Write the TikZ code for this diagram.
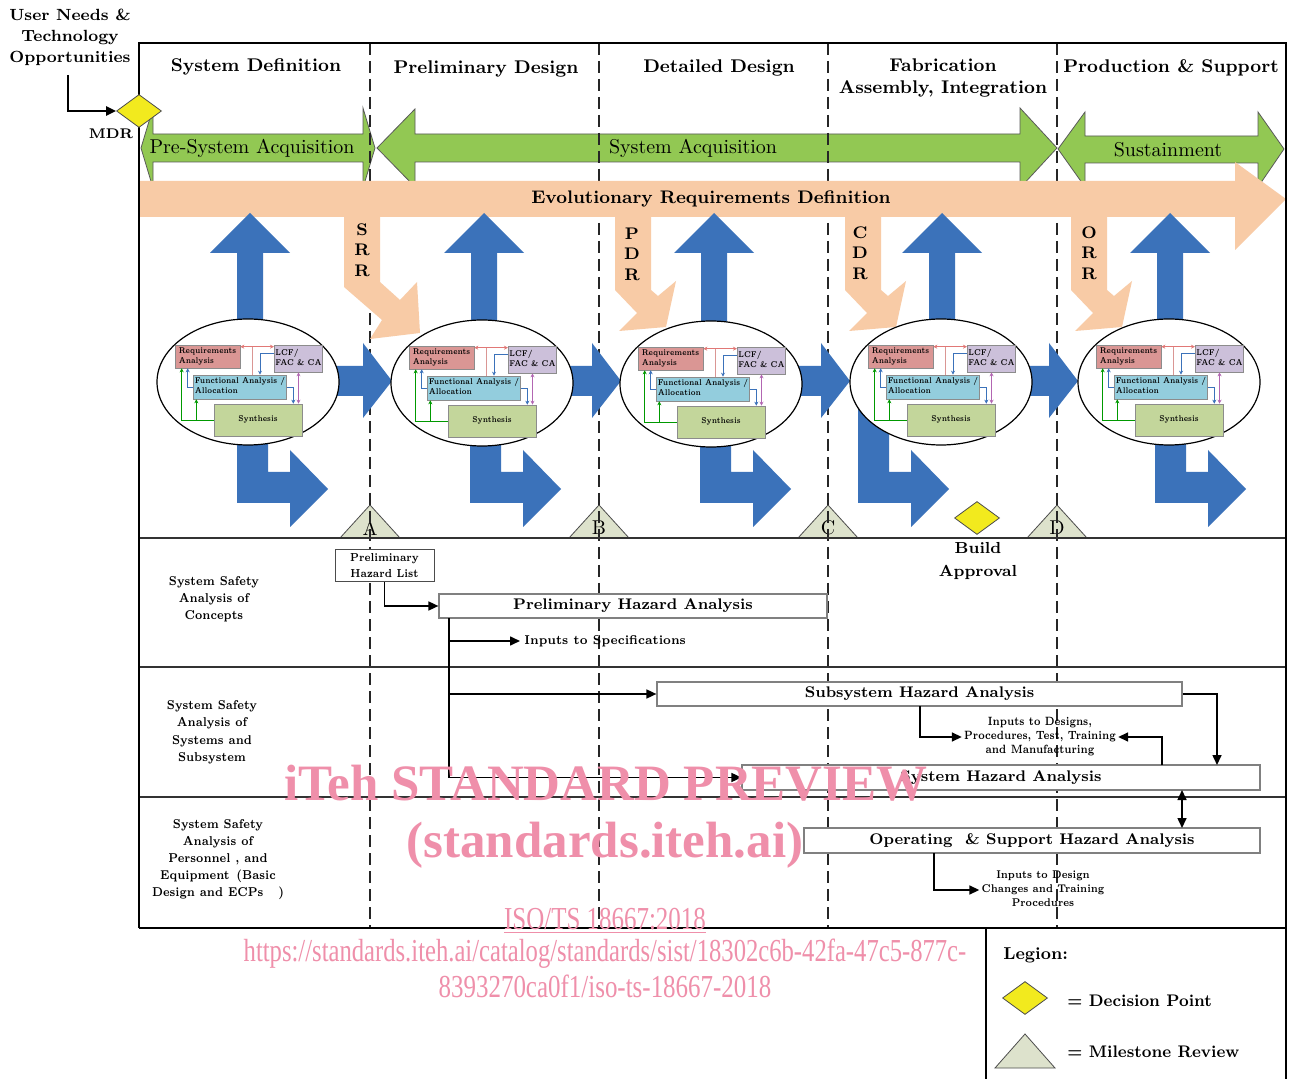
\documentclass[tikz,border=0pt]{standalone}
\usepackage{fontspec}
\usepackage{graphicx}
\usetikzlibrary{arrows.meta,shapes.geometric,calc}
\newfontfamily\wmfont{Liberation Serif}
\definecolor{grn}{RGB}{146,200,83}
\definecolor{peach}{RGB}{248,203,166}
\definecolor{blu}{RGB}{59,114,186}
\definecolor{ylw}{RGB}{242,234,30}
\definecolor{tri}{RGB}{221,226,204}
\definecolor{raC}{RGB}{218,150,148}
\definecolor{lcfC}{RGB}{204,192,218}
\definecolor{faC}{RGB}{147,205,221}
\definecolor{synC}{RGB}{195,214,155}
\definecolor{wm}{RGB}{239,143,170}
\newcommand\myfs[2]{\fontsize{#1}{#2}\selectfont}
\newcommand\cmpc[2]{\scalebox{#1}[1]{\begin{tabular}{@{}c@{}}#2\end{tabular}}}
\newcommand\cmpl[2]{\scalebox{#1}[1]{\begin{tabular}{@{}l@{}}#2\end{tabular}}}
\newcommand\cluster[3]{%
 \begin{scope}[shift={(#2,#3)}]
  \node[ellnode] (#1) at (0,0) {};
  \node[rabox] (#1ra) at (-40.5,-25.5) {\cmpl{0.75}{Requirements\\Analysis}};
  \node[lcfbox] (#1lcf) at (50.5,-23.5) {\cmpl{0.75}{LCF/\\FAC \& CA}};
  \node[fabox] (#1fa) at (-8,5) {\cmpl{0.75}{Functional Analysis /\\Allocation}};
  \node[synbox] (#1syn) at (10,38) {\cmpc{0.75}{Synthesis}};
  \draw[tinyarr,draw=raC!80!red,{Stealth[length=2pt,width=2pt]}-{Stealth[length=2pt,width=2pt]}] ([yshift=-1pt]#1ra.north east) -- ([yshift=-1pt]#1lcf.north west);
  \coordinate (#1pm) at (4,-35);
  \draw[line width=0.35pt,draw=raC] (#1pm) -- (#1pm |- #1fa.north);
  \draw[tinyarr,draw=blu] ([yshift=2.75pt]#1lcf.west) -| ([xshift=10pt]#1fa.north);
  \draw[tinyarr,draw=blu] (#1fa.west) -| ([xshift=6.5pt]#1ra.south west);
  \draw[tinyarr,draw=blu] (#1fa.east) -| ([xshift=-4.5pt]#1syn.north east);
  \draw[tinyarr,draw=violet!60,{Stealth[length=2pt,width=2pt]}-{Stealth[length=2pt,width=2pt]}] (#1lcf.south) -- (#1lcf.south |- #1syn.north);
  \draw[tinyarr,draw=green!60!black] (#1syn.west) -| ([xshift=3.5pt]#1ra.south west);
  \draw[tinyarr,draw=green!60!black] (#1syn.west) -| ([xshift=1.5pt]#1fa.south west);
 \end{scope}}
\newcommand\bentblue[1]{\fill[bluearr] (#1,395) -- ({#1+31},395) -- ({#1+31},472) -- ({#1+53},472) -- ({#1+53},450) -- ({#1+91},489) -- ({#1+53},527) -- ({#1+53},503) -- (#1,503) -- cycle;}
\newcommand\upblue[1]{\fill[bluearr] ({#1-13},340) -- ({#1-13},253) -- ({#1-40},253) -- (#1,213) -- ({#1+40},253) -- ({#1+13},253) -- ({#1+13},340) -- cycle;}
\newcommand\rightblue[2]{\fill[bluearr] (#1,366) -- ({#2-29},366) -- ({#2-29},343) -- (#2,381) -- ({#2-29},418) -- ({#2-29},396) -- (#1,396) -- cycle;}
\newcommand\peachbent[1]{\fill[peacharr] (#1,210) -- (#1,290) -- ({#1+22},313) -- ({#1+4},331) -- ({#1+51},327) -- ({#1+61},281) -- ({#1+43},296) -- ({#1+36},290) -- ({#1+36},210) -- cycle;}
\begin{document}
\begin{tikzpicture}[x=0.5pt,y=-0.5pt,
 greenarr/.style={fill=grn,draw=black!65,line width=0.4pt},
 bluearr/.style={fill=blu},
 peacharr/.style={fill=peach},
 dashv/.style={draw=black!85,line width=0.6pt,dash pattern=on 6pt off 3pt},
 sepline/.style={draw=black!80,line width=0.6pt},
 frameline/.style={draw=black,line width=0.9pt},
 hdr/.style={font=\bfseries\myfs{9.2}{11},align=center,inner sep=0pt},
 ghead/.style={font=\myfs{10}{12},inner sep=0pt},
 letters/.style={font=\bfseries\myfs{8.4}{10.3},align=center,inner sep=0pt},
 lbl/.style={font=\bfseries\myfs{6.4}{8.6},inner sep=0pt},
 hz/.style={draw=black!50,fill=white,line width=0.6pt,inner sep=0pt,minimum height=12pt,font=\bfseries\myfs{7.7}{10}},
 smalltxt/.style={font=\bfseries\myfs{6}{7},inner sep=1pt},
 conn/.style={line width=0.8pt,-{Triangle[length=5pt,width=4.5pt]}},
 conntwo/.style={line width=0.8pt,{Triangle[length=5pt,width=4.5pt]}-{Triangle[length=5pt,width=4.5pt]}},
 dpoint/.style={diamond,fill=ylw,draw=black!70,line width=0.4pt,minimum width=22.5pt,minimum height=16.5pt,inner sep=0pt},
 tristyle/.style={fill=tri,draw=black!70,line width=0.4pt},
 ellnode/.style={ellipse,draw=black,fill=white,line width=0.6pt,minimum width=91pt,minimum height=63pt,inner sep=0pt},
 cbox/.style={draw=black!45,line width=0.3pt,inner sep=0.6pt,font=\bfseries\myfs{4.2}{5}},
 rabox/.style={cbox,fill=raC,minimum width=32.5pt,minimum height=11.5pt},
 lcfbox/.style={cbox,fill=lcfC,minimum width=23.5pt,minimum height=13.5pt},
 fabox/.style={cbox,fill=faC,minimum width=45pt,minimum height=12pt},
 synbox/.style={cbox,fill=synC,minimum width=44pt,minimum height=16pt},
 tinyarr/.style={line width=0.35pt,-{Stealth[length=2pt,width=2pt]}},
 wmtext/.style={text=wm,inner sep=0pt}
]
\useasboundingbox (0,0) rectangle (1290,1079);
\fill[white] (0,0) rectangle (1290,1079);

% green phase arrows
\draw[greenarr] (141,148) -- (153,108) -- (153,134) -- (363,134) -- (363,108) -- (375,148) -- (363,188) -- (363,162) -- (153,162) -- (153,188) -- cycle;
\draw[greenarr] (377,148) -- (415,109) -- (415,134) -- (1020,134) -- (1020,108) -- (1057,148) -- (1020,188) -- (1020,162) -- (415,162) -- (415,187) -- cycle;
\draw[greenarr] (1058,149) -- (1085,112) -- (1085,136) -- (1258,136) -- (1258,112) -- (1284,149) -- (1258,187) -- (1258,163) -- (1085,163) -- (1085,187) -- cycle;

% milestone triangles
\foreach \x/\l in {370/A,599/B,828/C,1057/D}{
  \draw[tristyle] ({\x-30},538) -- (\x,505) -- ({\x+30},538) -- cycle;
  \node[font=\myfs{10}{12},inner sep=0pt] (ms\l) at (\x,528) {\l};
}

% dashed phase separators
\foreach \x in {370,599,828,1057}{
  \draw[dashv] (\x,43) -- (\x,928);
}

% evolutionary requirements arrow
\fill[peacharr] (139,181) -- (1235,181) -- (1235,162) -- (1286,199) -- (1235,250) -- (1235,217) -- (139,217) -- cycle;
\fill[peacharr] (344,210) -- (344,287) -- (382,320) -- (370,339) -- (420,333) -- (417,282) -- (400,300) -- (380,282) -- (380,210) -- cycle;
\peachbent{615}
\peachbent{845}
\peachbent{1071}

% blue arrows
\foreach \c in {250,484,714,942,1170}{\upblue{\c}}
\rightblue{320}{392}
\rightblue{555}{621}
\rightblue{785}{850}
\rightblue{1015}{1078}
\bentblue{237}
\bentblue{470}
\bentblue{700}
\bentblue{858}
\bentblue{1155}

% clusters
\cluster{ca}{248}{382}
\cluster{cb}{482}{383}
\cluster{cc}{711}{384}
\cluster{cd}{941}{382}
\cluster{ce}{1169}{382}

% frame and separators
\draw[sepline] (139,538) -- (1286,538);
\draw[sepline] (139,667) -- (1286,667);
\draw[sepline] (139,797) -- (1286,797);
\draw[frameline] (139,928) -- (139,43) -- (1286,43) -- (1286,1079);
\draw[frameline] (139,928) -- (1286,928);
\draw[frameline] (986,928) -- (986,1079);

% headings
\node[hdr] (h1) at (256,67) {System Definition};
\node[hdr] (h2) at (486,69) {Preliminary Design};
\node[hdr] (h3) at (719,68) {Detailed Design};
\node[hdr] (h4) at (943,78) {Fabrication\\Assembly, Integration};
\node[hdr] (h5) at (1171,68) {Production \& Support};

\node[ghead] (g1) at (252,148) {Pre-System Acquisition};
\node[ghead] (g2) at (693,148) {System Acquisition};
\node[ghead] (g3) at (1168,150) {Sustainment};
\node[font=\bfseries\myfs{9.1}{11},inner sep=0pt] (evo) at (711,199) {Evolutionary Requirements Definition};

\node[letters] (srr) at (362,250) {S\\R\\R};
\node[letters] (pdr) at (632,254) {P\\D\\R};
\node[letters] (cdr) at (860,253) {C\\D\\R};
\node[letters] (orr) at (1089,253) {O\\R\\R};

% user needs and MDR
\node[font=\bfseries\myfs{8.1}{10.5},align=center,inner sep=0pt] (un) at (70,37) {User Needs \&\\Technology\\Opportunities};
\node[dpoint] (mdr) at (139,111) {};
\node[font=\bfseries\myfs{7}{9},inner sep=0pt] (mdrt) at (111,134) {MDR};
\draw[conn,line width=1.1pt] (68,75) |- (mdr.west);

% build approval
\node[dpoint] (ba) at (977,518) {};
\node[font=\bfseries\myfs{8}{11},align=center,inner sep=0pt] (bat) at (978,561) {Build\\Approval};

% left labels
\node[lbl] (l1) at (214,599) {\cmpc{0.82}{System Safety\\Analysis of\\Concepts}};
\node[lbl] (l2) at (212,732) {\cmpc{0.82}{System Safety\\Analysis of\\Systems and\\Subsystem}};
\node[lbl] (l3) at (218,859) {\cmpc{0.82}{System Safety\\Analysis of\\Personnel , and\\Equipment \,(Basic\\Design and ECPs \ \ )}};

% hazard analyses
\node[draw=black!70,fill=white,line width=0.5pt,minimum width=49.5pt,minimum height=16pt,inner sep=0pt,font=\bfseries\myfs{5.8}{8}] (phl) at (384.5,566) {\cmpc{0.82}{Preliminary\\Hazard List}};
\node[hz,minimum width=194pt] (pha) at (633,606) {Preliminary Hazard Analysis};
\node[hz,minimum width=262.5pt] (ssha) at (919.5,694) {Subsystem Hazard Analysis};
\node[hz,minimum width=259pt,minimum height=12.5pt] (sha) at (1001,777.5) {System Hazard Analysis};
\node[hz,minimum width=228pt,minimum height=12.5pt] (osha) at (1032,840.5) {Operating \ \& Support Hazard Analysis};

\node[font=\bfseries\myfs{6.4}{8},anchor=west,inner sep=2pt] (ins) at (520,641) {\scalebox{0.88}[1]{Inputs to Specifications}};
\node[smalltxt] (inp1) at (1040,737) {\cmpc{0.78}{Inputs to Designs,\\Procedures, Test, Training\\and Manufacturing}};
\node[smalltxt,font=\bfseries\myfs{5.6}{7}] (inp2) at (1043,890) {\cmpc{0.82}{Inputs to Design\\Changes and Training\\Procedures}};

\draw[conn] (phl.south) |- (pha.west);
\coordinate (spT) at (449,618);
\coordinate (spB) at (449,778);
\draw[line width=0.8pt] (spT) -- (spB);
\draw[conn] (spT) |- (ins.west);
\draw[conn] (spT) |- (ssha.west);
\draw[conn] (spT) |- (sha.west);
\coordinate (ssB) at (920,706);
\draw[conn] (ssB) |- (inp1.west);
\coordinate (shT) at (1162,765);
\draw[conn] (shT) |- (inp1.east);
\coordinate (shT2) at (1217,765);
\draw[conn] (ssha.east) -| (shT2);
\coordinate (shB) at (1182,790);
\coordinate (osT) at (1182,828);
\draw[conntwo] (shB) -- (osT);
\coordinate (osB) at (934,853);
\draw[conn] (osB) |- (inp2.west);

% legend
\node[font=\bfseries\myfs{8.6}{10},anchor=west,inner sep=0pt] (leg) at (1003,955) {Legion:};
\node[dpoint] (legd) at (1025,998) {};
\node[font=\bfseries\myfs{8.4}{10},anchor=west,inner sep=0pt] (legdt) at (1067,1001) {\scalebox{0.94}[1]{= Decision Point}};
\draw[tristyle] (995,1068) -- (1025,1034) -- (1055,1068) -- cycle;
\coordinate (legtri) at (1025,1055);
\node[font=\bfseries\myfs{8.4}{10},anchor=west,inner sep=0pt] (legtt) at (1067,1052) {\scalebox{0.94}[1]{= Milestone Review}};

% watermark
\node[wmtext,font=\wmfont\bfseries\myfs{25.5}{30}] (wm1) at (606,783) {iTeh STANDARD PREVIEW};
\node[wmtext,font=\wmfont\bfseries\myfs{25.5}{30}] (wm2) at (605,845) {(standards.iteh.ai)};
\node[wmtext,font=\wmfont\myfs{16}{18}] (wm3) at (605,921) {\scalebox{0.78}[1]{\underline{ISO/TS 18667:2018}}};
\node[wmtext,font=\wmfont\myfs{16}{18}] (wm4) at (605,954) {\scalebox{0.77}[1]{https://standards.iteh.ai/catalog/standards/sist/18302c6b-42fa-47c5-877c-}};
\node[wmtext,font=\wmfont\myfs{16}{18}] (wm5) at (605,986) {\scalebox{0.78}[1]{8393270ca0f1/iso-ts-18667-2018}};
\end{tikzpicture}
\end{document}
